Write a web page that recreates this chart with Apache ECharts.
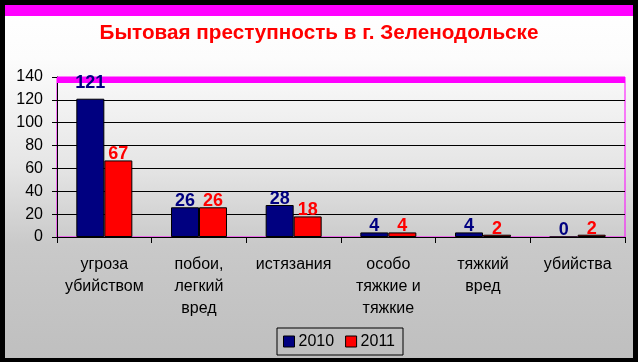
<!DOCTYPE html>
<html>
<head>
<meta charset="utf-8">
<script src="https://cdn.jsdelivr.net/npm/echarts@6/dist/echarts.min.js"></script>
<style>
html,body{margin:0;padding:0;background:#000;}
#c{width:638px;height:362px;}
</style>
</head>
<body>
<div id="c"></div>
<script>
var titleText = 'Бытовая преступность в г. Зеленодольске';
var categories = ['угроза\nубийством', 'побои,\nлегкий\nвред', 'истязания', 'особо\nтяжкие и\nтяжкие', 'тяжкий\nвред', 'убийства'];
var seriesNames = ['2010', '2011'];
var values2010 = [121, 26, 28, 4, 4, 0];
var values2011 = [67, 26, 18, 4, 2, 2];
var yTicks = [0, 20, 40, 60, 80, 100, 120, 140];

var chart = echarts.init(document.getElementById('c'), null, {renderer: 'canvas'});

var data2010 = values2010.map(function (v, i) {
  if (i === 0) return {value: v, label: {offset: [0, -10]}};
  return v;
});

var labelBase = {
  show: true,
  position: 'top',
  distance: -3,
  fontFamily: 'Arial, "Liberation Sans", sans-serif',
  fontWeight: 'bold',
  fontSize: 18
};

var option = {
  backgroundColor: '#000',
  animation: false,
  graphic: [
    {
      type: 'rect', z: -10, silent: true,
      shape: {x: 5, y: 5, width: 628, height: 353},
      style: {
        fill: new echarts.graphic.LinearGradient(0, 0, 0, 1, [
          {offset: 0, color: '#ffffff'},
          {offset: 0.15, color: '#fcfcfc'},
          {offset: 0.45, color: '#e6e6e6'},
          {offset: 0.68, color: '#c9c9c9'},
          {offset: 1, color: '#bfbfbf'}
        ])
      }
    },
    {
      type: 'rect', z: -9, silent: true,
      shape: {x: 5, y: 5, width: 628, height: 11},
      style: {fill: '#ff00ff'}
    }
  ],
  title: {
    text: titleText,
    left: 'center',
    top: 18,
    textStyle: {
      color: '#ff0000',
      fontFamily: 'Arial, "Liberation Sans", sans-serif',
      fontWeight: 'bold',
      fontSize: 20.7
    }
  },
  legend: {
    data: seriesNames,
    left: 277,
    top: 328,
    orient: 'horizontal',
    itemWidth: 11,
    itemHeight: 11,
    itemGap: 11,
    padding: [5, 8, 5, 6],
    borderColor: '#000',
    borderWidth: 1,
    icon: 'rect',
    itemStyle: {borderColor: '#000', borderWidth: 1},
    textStyle: {
      color: '#000',
      fontFamily: 'Arial, "Liberation Sans", sans-serif',
      fontSize: 16,
      lineHeight: 17,
      padding: [0, 0, 0, -1]
    }
  },
  grid: {
    left: 57,
    right: 13,
    top: 77,
    bottom: 125,
    show: true,
    backgroundColor: 'transparent',
    borderColor: '#ff00ff',
    borderWidth: 1
  },
  xAxis: {
    type: 'category',
    data: categories,
    axisLine: {lineStyle: {color: '#000', width: 1}},
    axisTick: {show: true, length: 6, lineStyle: {color: '#000'}},
    axisLabel: {
      color: '#000',
      fontFamily: 'Arial, "Liberation Sans", sans-serif',
      fontSize: 16,
      lineHeight: 22,
      margin: 17,
      interval: 0
    }
  },
  yAxis: {
    type: 'value',
    min: yTicks[0],
    max: yTicks[yTicks.length - 1],
    interval: 20,
    axisLine: {show: true, lineStyle: {color: '#000', width: 1}},
    axisTick: {show: true, length: 5, lineStyle: {color: '#000'}},
    splitLine: {show: true, lineStyle: {color: '#000', width: 1}},
    axisLabel: {
      color: '#000',
      fontFamily: 'Arial, "Liberation Sans", sans-serif',
      fontSize: 16,
      margin: 14
    }
  },
  series: [
    {
      name: seriesNames[0],
      type: 'bar',
      data: data2010,
      barWidth: 28,
      barGap: '0%',
      itemStyle: {color: '#000080', borderColor: '#000', borderWidth: 1},
      label: Object.assign({color: '#000080'}, labelBase),
      markArea: {
        silent: true,
        itemStyle: {color: '#ff00ff'},
        data: [[{yAxis: 134.8}, {yAxis: 140}]]
      }
    },
    {
      name: seriesNames[1],
      type: 'bar',
      data: values2011,
      barWidth: 28,
      barGap: '0%',
      itemStyle: {color: '#ff0000', borderColor: '#000', borderWidth: 1},
      label: Object.assign({color: '#ff0000'}, labelBase)
    }
  ]
};
chart.setOption(option);
</script>
</body>
</html>
